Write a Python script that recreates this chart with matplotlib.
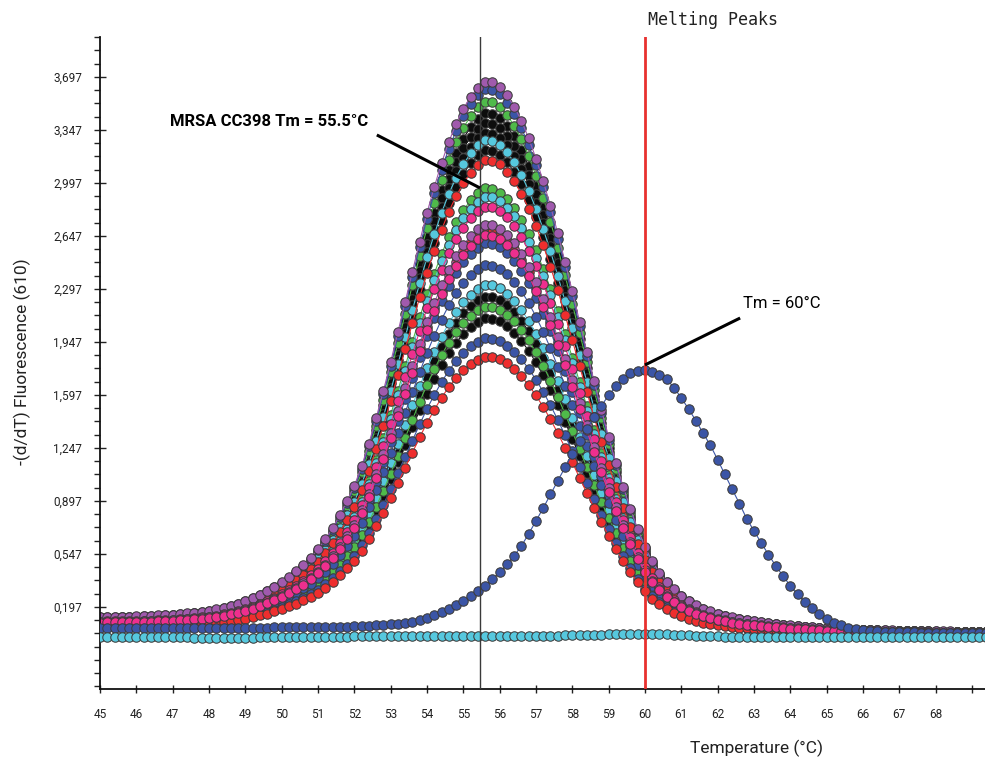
import numpy as np
import matplotlib.pyplot as plt
from matplotlib.ticker import FixedLocator, FuncFormatter

# temperature steps of the melt run (0.2 degC)
temps = np.round(np.arange(45.0, 69.41, 0.2), 1)

# -(d/dF)/dT of the tallest MRSA CC398 trace, one row per degree
cc398_profile = [
    0.130, 0.131, 0.132, 0.133, 0.134,   # 45
    0.135, 0.137, 0.139, 0.141, 0.144,   # 46
    0.147, 0.151, 0.155, 0.160, 0.166,   # 47
    0.173, 0.181, 0.192, 0.205, 0.220,   # 48
    0.238, 0.258, 0.280, 0.305, 0.333,   # 49
    0.364, 0.398, 0.436, 0.478, 0.525,   # 50
    0.580, 0.645, 0.720, 0.805, 0.900,   # 51
    1.000, 1.130, 1.280, 1.450, 1.630,   # 52
    1.820, 2.020, 2.220, 2.420, 2.620,   # 53
    2.810, 2.980, 3.140, 3.280, 3.400,   # 54
    3.500, 3.580, 3.640, 3.680, 3.675,   # 55
    3.645, 3.590, 3.515, 3.420, 3.305,   # 56
    3.170, 3.020, 2.855, 2.675, 2.485,   # 57
    2.290, 2.090, 1.890, 1.695, 1.505,   # 58
    1.325, 1.155, 0.995, 0.850, 0.715,   # 59
    0.595, 0.500, 0.425, 0.365, 0.315,   # 60
    0.272, 0.237, 0.209, 0.186, 0.168,   # 61
    0.153, 0.140, 0.129, 0.119, 0.111,   # 62
    0.104, 0.097, 0.091, 0.085, 0.080,   # 63
    0.075, 0.071, 0.067, 0.063, 0.060,   # 64
    0.057, 0.054, 0.052, 0.050, 0.048,   # 65
    0.046, 0.045, 0.044, 0.043, 0.042,   # 66
    0.041, 0.040, 0.039, 0.038, 0.037,   # 67
    0.036, 0.035, 0.035, 0.034, 0.034,   # 68
    0.033, 0.033, 0.032,                 # 69
]

# peak heights of the CC398 samples and their well colours
cc398_peaks = [3.666, 3.616, 3.534, 3.459, 3.393, 3.327, 3.281, 3.215,
               3.149, 2.962, 2.906, 2.840, 2.720, 2.680, 2.653, 2.599,
               2.455, 2.323, 2.246, 2.180, 2.103, 1.971, 1.850]
cc398_colors = ['purple', 'blue', 'green', 'black', 'black', 'black', 'cyan', 'black',
                'red', 'green', 'cyan', 'pink', 'purple', 'red', 'pink', 'blue',
                'blue', 'cyan', 'black', 'green', 'black', 'blue', 'red']

# sample melting at 60 degC
tm60_trace = [
    0.058, 0.058, 0.058, 0.058, 0.058,   # 45
    0.058, 0.057, 0.057, 0.057, 0.057,   # 46
    0.057, 0.057, 0.057, 0.057, 0.057,   # 47
    0.058, 0.058, 0.058, 0.059, 0.059,   # 48
    0.060, 0.060, 0.061, 0.061, 0.062,   # 49
    0.062, 0.063, 0.063, 0.064, 0.065,   # 50
    0.065, 0.066, 0.066, 0.067, 0.067,   # 51
    0.068, 0.070, 0.072, 0.075, 0.078,   # 52
    0.082, 0.087, 0.093, 0.100, 0.110,   # 53
    0.125, 0.142, 0.162, 0.185, 0.210,   # 54
    0.238, 0.268, 0.300, 0.338, 0.380,   # 55
    0.425, 0.478, 0.535, 0.600, 0.680,   # 56
    0.765, 0.850, 0.940, 1.030, 1.118,   # 57
    1.205, 1.290, 1.370, 1.450, 1.525,   # 58
    1.595, 1.655, 1.705, 1.740, 1.755,   # 59
    1.760, 1.748, 1.730, 1.700, 1.645,   # 60
    1.577, 1.505, 1.428, 1.345, 1.265,   # 61
    1.170, 1.072, 0.975, 0.880, 0.780,   # 62
    0.700, 0.620, 0.543, 0.468, 0.402,   # 63
    0.337, 0.280, 0.232, 0.191, 0.153,   # 64
    0.120, 0.094, 0.075, 0.060, 0.050,   # 65
    0.043, 0.038, 0.035, 0.033, 0.031,   # 66
    0.030, 0.029, 0.029, 0.028, 0.028,   # 67
    0.027, 0.027, 0.026, 0.026, 0.026,   # 68
    0.025, 0.025, 0.025,                 # 69
]

# no-template control, flat
ntc_trace = [
    0.000, 0.000, 0.000, 0.000, 0.000,   # 45
    0.000, 0.000, 0.000, 0.000, 0.000,   # 46
    0.000, -0.002, -0.004, -0.006, -0.008,  # 47
    -0.009, -0.010, -0.010, -0.010, -0.009,  # 48
    -0.008, -0.006, -0.004, -0.002, 0.000,   # 49
    0.000, 0.000, 0.000, 0.000, 0.000,   # 50
    0.001, 0.001, 0.001, 0.001, 0.001,   # 51
    0.002, 0.002, 0.002, 0.002, 0.002,   # 52
    0.003, 0.003, 0.003, 0.003, 0.003,   # 53
    0.003, 0.003, 0.003, 0.003, 0.003,   # 54
    0.004, 0.004, 0.004, 0.004, 0.004,   # 55
    0.004, 0.004, 0.005, 0.005, 0.005,   # 56
    0.006, 0.006, 0.007, 0.008, 0.009,   # 57
    0.010, 0.011, 0.012, 0.013, 0.014,   # 58
    0.015, 0.016, 0.016, 0.017, 0.017,   # 59
    0.017, 0.017, 0.016, 0.015, 0.014,   # 60
    0.012, 0.010, 0.008, 0.006, 0.004,   # 61
    0.002, 0.001, 0.000, 0.000, 0.000,   # 62
    0.000, 0.000, 0.000, 0.000, 0.000,   # 63
    0.000, 0.000, 0.000, 0.000, 0.000,   # 64
    0.000, 0.000, 0.000, 0.000, 0.000,   # 65
    0.000, 0.000, 0.000, 0.000, 0.000,   # 66
    0.000, 0.000, 0.000, 0.000, 0.000,   # 67
    0.000, 0.000, 0.000, 0.000, 0.000,   # 68
    0.000, 0.000, 0.000,                 # 69
]

y_major = [0.197, 0.547, 0.897, 1.247, 1.597, 1.947, 2.297, 2.647, 2.997, 3.347, 3.697]
x_labelled = list(range(45, 69))

tm_cc398 = 55.46
tm_other = 60.0

palette = {
    'purple': '#a05aad', 'blue': '#3b55a6', 'green': '#4fba4a', 'black': '#0d0d0d',
    'cyan': '#56c8de', 'red': '#ee2e2e', 'pink': '#ee2f8e',
}
# wells drawn first end up underneath
draw_rank = {'black': 0, 'green': 1, 'cyan': 1, 'red': 2, 'blue': 2, 'purple': 3, 'pink': 3}

plt.rcParams['font.family'] = ['Roboto', 'DejaVu Sans']

fig = plt.figure(figsize=(9.85, 7.57), dpi=100)
ax = fig.add_axes([100 / 985, 68 / 757, 885 / 985, 652 / 757])

profile = np.array(cc398_profile)
for peak, cname in zip(cc398_peaks, cc398_colors):
    c = palette[cname]
    ax.plot(temps, profile * peak / profile.max(), '-o', color=c, lw=0.8,
            ms=6.8, mfc=c, mec='#3c3c3c', mew=0.75, zorder=2 + 0.1 * draw_rank[cname])

for trace, cname in [(tm60_trace, 'blue'), (ntc_trace, 'cyan')]:
    c = palette[cname]
    ax.plot(temps, trace, '-o', color=c, lw=0.8, ms=6.8, mfc=c,
            mec='#3c3c3c', mew=0.75, zorder=3)

# Tm markers
ax.axvline(tm_cc398, color='#3a3a3a', lw=1.0, zorder=5)
ax.axvline(tm_other, color='#e8312f', lw=2.0, zorder=5)

# annotations
ax.plot([52.62, tm_cc398], [3.314, 2.964], color='black', lw=2.2, zorder=6, solid_capstyle='butt')
ax.text(46.93, 3.406, 'MRSA CC398 Tm = 55.5°C', fontsize=12, fontweight='bold',
        ha='left', va='center', zorder=6)
ax.plot([tm_other, 62.62], [1.795, 2.105], color='black', lw=2.2, zorder=6, solid_capstyle='butt')
ax.text(62.70, 2.204, 'Tm = 60°C', fontsize=12, ha='left', va='center', zorder=6)

ax.set_xlim(45, 69.36)
ax.set_ylim(-0.345, 3.961)

for s in ['top', 'right']:
    ax.spines[s].set_visible(False)
for s in ['left', 'bottom']:
    ax.spines[s].set_linewidth(1.3)
    ax.spines[s].set_color('#111111')

ax.xaxis.set_major_locator(FixedLocator(list(range(45, 70))))
ax.xaxis.set_major_formatter(FuncFormatter(lambda v, p: f'{int(round(v))}' if round(v) in x_labelled else ''))
ax.yaxis.set_major_locator(FixedLocator(y_major))
ax.yaxis.set_major_formatter(FuncFormatter(lambda v, p: f'{v:.3f}'.replace('.', ',')))
minor = [y_major[0] + 0.0875 * k for k in range(-6, 45)]
ax.yaxis.set_minor_locator(FixedLocator([m for m in minor if -0.345 < m < 3.96]))

ax.tick_params(axis='x', direction='inout', length=6, width=1, pad=11, labelsize=8.5, colors='#222222')
ax.tick_params(axis='y', which='major', direction='inout', length=8, width=1, pad=9, labelsize=8.5, colors='#222222')
ax.tick_params(axis='y', which='minor', direction='out', length=4, width=1, colors='#222222')

fig.text(648 / 985, 1 - 20 / 757, 'Melting Peaks', fontsize=12, family=['DejaVu Sans Mono'],
         ha='left', va='center', color='#222222')
fig.text(756 / 985, 1 - 748 / 757, 'Temperature (°C)', fontsize=12.5, ha='center', va='center',
         color='#222222')
fig.text(22 / 985, 1 - 362 / 757, '-(d/dT) Fluorescence (610)', fontsize=12.5, rotation=90,
         ha='center', va='center', color='#222222')

fig.savefig('out.png', dpi=100)
